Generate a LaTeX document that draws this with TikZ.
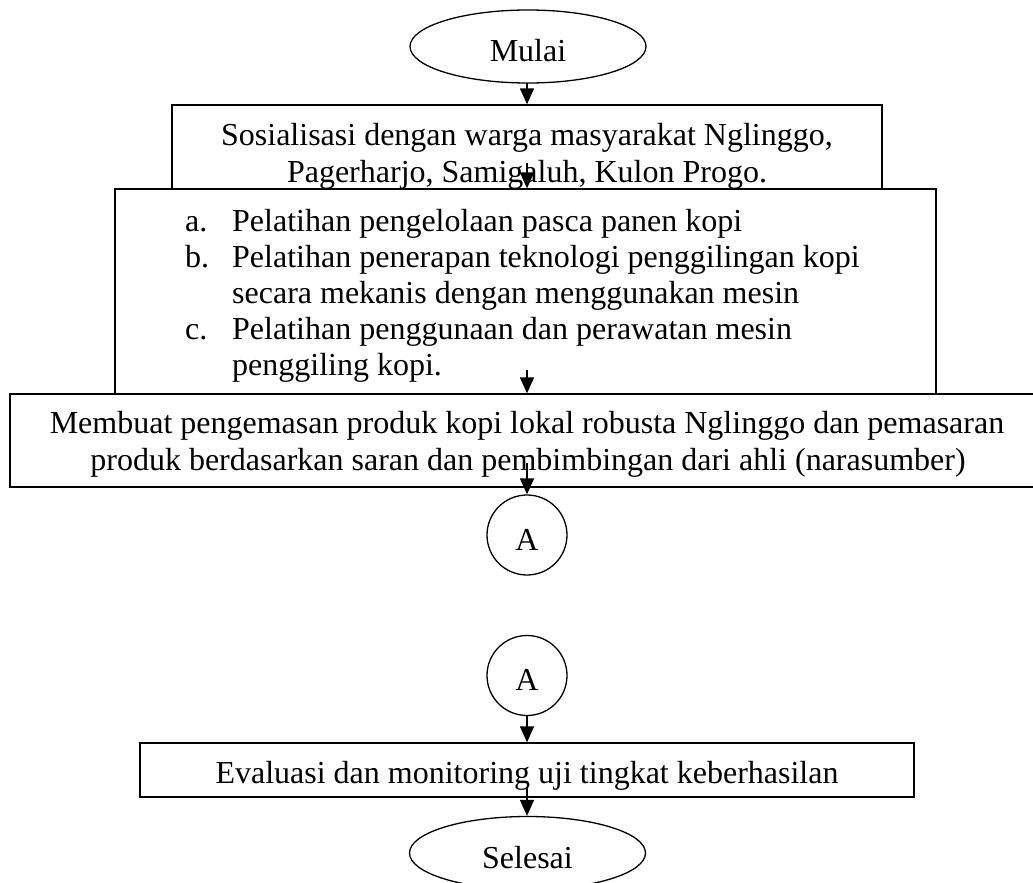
\documentclass[tikz,border=0pt]{standalone}
\usepackage{fontspec}
\setmainfont{Liberation Serif}
\usetikzlibrary{shapes.geometric,arrows.meta}
\tikzset{
  lw/.style={line width=1.3pt},
  box/.style={draw, lw, inner sep=0pt},
  term/.style={ellipse, draw, lw, minimum width=236pt, minimum height=73pt, inner sep=0pt, text height=30pt, text depth=0pt},
  conn/.style={circle, draw, lw, minimum size=80pt, inner sep=0pt, text height=30pt, text depth=0pt},
  arr/.style={lw, -{Triangle[length=16pt,width=14pt]}},
  tline/.style={anchor=base, inner sep=0pt},
  lline/.style={anchor=base west, inner sep=0pt},
  every node/.style={font=\fontsize{32}{36.8}\selectfont}
}
\begin{document}
\begin{tikzpicture}[x=1pt,y=-1pt]
\useasboundingbox (0,0) rectangle (1033,883);
\clip (0,0) rectangle (1033,883);
% start
\node[term] (start) at (528,46.5) {Mulai};
% box 1
\node[box, minimum width=710pt, minimum height=84pt] (b1) at (527,147) {};
\node[tline] (t1a) at (527,145) {Sosialisasi dengan warga masyarakat Nglinggo,};
\node[tline] (t1b) at (527,182) {Pagerharjo, Samigaluh, Kulon Progo.};
% box 2
\node[box, minimum width=821pt, minimum height=205pt] (b2) at (525.5,291.5) {};
\node[lline] (la) at (185,231) {a.};
\node[lline] (ta) at (232,231) {Pelatihan pengelolaan pasca panen kopi};
\node[lline] (lb) at (185,267) {b.};
\node[lline] (tb1) at (232,267) {Pelatihan penerapan teknologi penggilingan kopi};
\node[lline] (tb2) at (232,303) {secara mekanis dengan menggunakan mesin};
\node[lline] (lc) at (185,339) {c.};
\node[lline] (tc1) at (232,339) {Pelatihan penggunaan dan perawatan mesin};
\node[lline] (tc2) at (232,375) {penggiling kopi.};
% box 3
\node[box, minimum width=1035pt, minimum height=93pt] (b3) at (527.5,440.5) {};
\node[tline] (t3a) at (527,433) {Membuat pengemasan produk kopi lokal robusta Nglinggo dan pemasaran};
\node[tline] (t3b) at (528,470) {produk berdasarkan saran dan pembimbingan dari ahli (narasumber)};
% connectors A
\node[conn] (a1) at (527,535) {A};
\node[conn] (a2) at (527,675.5) {A};
% box 4
\node[box, minimum width=774pt, minimum height=54pt] (b4) at (527,770) {};
\node[tline] (t4) at (527,783) {Evaluasi dan monitoring uji tingkat keberhasilan};
% end
\node[term] (end) at (527.5,853) {Selesai};
% arrows
\coordinate (s0) at (527,83);
\coordinate (s1) at (527,163);
\coordinate (s2) at (527,370);
\coordinate (s3) at (527,463);
\coordinate (s4) at (527,787);
\draw[arr] (s0) -- (s0 |- b1.north);
\draw[arr] (s1) -- (s1 |- b2.north);
\draw[arr] (s2) -- (s2 |- b3.north);
\draw[arr] (s3) -- (a1.north);
\draw[arr] (a2.south) -- (b4.north);
\draw[arr] (s4) -- (s4 |- end.north);
\end{tikzpicture}
\end{document}
